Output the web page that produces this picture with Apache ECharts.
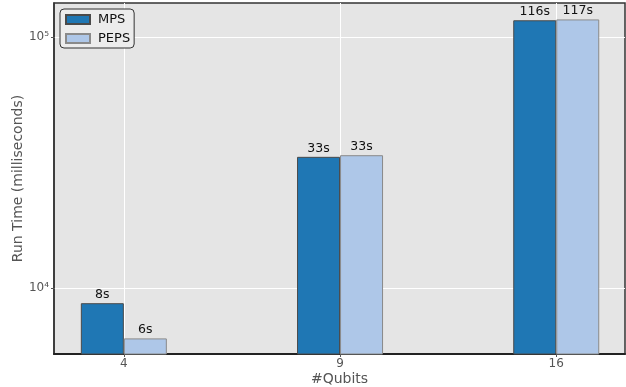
<!DOCTYPE html>
<html>
<head>
<meta charset="utf-8">
<script src="https://cdn.jsdelivr.net/npm/echarts@6/dist/echarts.min.js"></script>
<style>
  html, body { margin: 0; padding: 0; background: #fff; }
  #chart { width: 626px; height: 387px; }
</style>
</head>
<body>
<div id="chart"></div>
<script>
// category positions on the x value axis and their labels
const QUBITS = ['4', '9', '16']
const X_POS = [0, 1, 2]

// run times in milliseconds
const MPS_MS = [8700, 33300, 116500]
const PEPS_MS = [6300, 33800, 117400]
const MPS_LABELS = ['8s', '33s', '116s']
const PEPS_LABELS = ['6s', '33s', '117s']

const Y_TICKS = [10000, 100000]
const Y_TICK_LABELS = { 10000: '10⁴', 100000: '10⁵' }

const FONT = 'DejaVu Sans'

function barSeries(name, values, labels, color, edge) {
  return {
    name,
    type: 'bar',
    barWidth: 43,
    barGap: '0%',
    data: X_POS.map((x, i) => [x, values[i]]),
    itemStyle: { color, borderColor: edge, borderWidth: 1 },
    label: {
      show: true,
      position: 'top',
      distance: 2,
      color: '#111',
      fontFamily: FONT,
      fontSize: 12.5,
      formatter: (p) => labels[p.dataIndex],
    },
  }
}

const chart = echarts.init(document.getElementById('chart'), null, { renderer: 'canvas' })
chart.setOption({
  animation: false,
  textStyle: { fontFamily: FONT },
  grid: {
    left: 54, right: 1, top: 3, bottom: 33,
    containLabel: false,
    outerBoundsMode: 'none',
    show: true,
    backgroundColor: '#e5e5e5',
    borderColor: '#333',
    borderWidth: 1.5,
  },
  legend: {
    orient: 'vertical',
    left: 60,
    top: 9,
    padding: [4, 4, 3, 5],
    itemWidth: 24,
    itemHeight: 9,
    itemGap: 6,
    backgroundColor: '#ececec',
    borderColor: '#333',
    borderWidth: 1,
    borderRadius: 4,
    textStyle: { color: '#111', fontSize: 13, fontFamily: FONT, padding: [0, 0, 0, 3] },
    data: [{ name: 'MPS', icon: 'rect' }, { name: 'PEPS', icon: 'rect' }],
  },
  xAxis: {
    type: 'value',
    min: -0.323,
    max: 2.318,
    name: '#Qubits',
    nameLocation: 'middle',
    nameGap: 18,
    nameMoveOverlap: false,
    nameTextStyle: { color: '#555', fontSize: 14, fontFamily: FONT },
    axisLine: { show: true, onZero: false, lineStyle: { color: '#222', width: 2 } },
    axisTick: { show: true, length: 3, customValues: X_POS, lineStyle: { color: '#555' } },
    axisLabel: {
      customValues: X_POS,
      color: '#555',
      fontSize: 12,
      margin: 4,
      formatter: (v) => QUBITS[Math.round(v)],
    },
    splitLine: { show: true, lineStyle: { color: '#fff', width: 1 } },
  },
  yAxis: {
    type: 'log',
    logBase: 10,
    min: 5460,
    max: 136500,
    name: 'Run Time (milliseconds)',
    nameLocation: 'middle',
    nameGap: 29,
    nameMoveOverlap: false,
    nameTextStyle: { color: '#555', fontSize: 14, fontFamily: FONT },
    axisLine: { show: true, onZero: false, lineStyle: { color: '#333', width: 1.5 } },
    axisTick: { show: true, length: 3, customValues: Y_TICKS, lineStyle: { color: '#555' } },
    axisLabel: {
      customValues: Y_TICKS,
      color: '#555',
      fontSize: 12,
      margin: 5,
      formatter: (v) => Y_TICK_LABELS[Math.round(v)] || '',
    },
    splitLine: { show: true, lineStyle: { color: '#fff', width: 1 } },
  },
  series: [
    barSeries('MPS', MPS_MS, MPS_LABELS, '#1f77b4', '#4a4a4a'),
    barSeries('PEPS', PEPS_MS, PEPS_LABELS, '#aec7e8', '#8a8a8a'),
  ],
})
</script>
</body>
</html>
